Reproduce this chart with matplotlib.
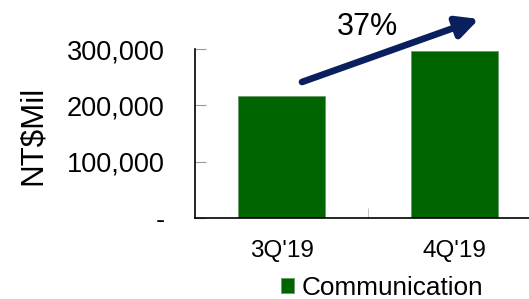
import matplotlib.pyplot as plt
from matplotlib.ticker import FuncFormatter

plt.rcParams['font.family'] = ['Liberation Sans', 'DejaVu Sans']

quarters = ["3Q'19", "4Q'19"]
communication = [216700, 296500]
growth_label = "37%"

fig = plt.figure(figsize=(5.29, 2.99), dpi=100)
ax = fig.add_axes([0.3686, 0.2709, 0.6314, 0.5652])

ax.bar(range(len(quarters)), communication, width=0.5, color='#006400',
       edgecolor='#6a9a6a', linewidth=0.6, label='Communication')

ax.set_xlim(-0.5, 1.43)
ax.set_ylim(0, 300000)
ax.set_yticks([0, 100000, 200000, 300000])
ax.yaxis.set_major_formatter(FuncFormatter(lambda v, p: '-' if v == 0 else f'{int(v):,}'))
ax.set_xticks(range(len(quarters)))
ax.set_xticklabels(quarters)
ax.set_xticks([0.5], minor=True)

for s in ['top', 'right']:
    ax.spines[s].set_visible(False)
for s in ['left', 'bottom']:
    ax.spines[s].set_color('black')
    ax.spines[s].set_linewidth(1.2)

ax.tick_params(axis='y', direction='in', length=8, color='#999999', labelsize=19.5, pad=22)
ax.tick_params(axis='x', which='major', length=0, labelsize=17.5, pad=16)
ax.tick_params(axis='x', which='minor', direction='in', length=7, color='#bbbbbb')

ax.set_ylabel('NT$Mil', fontsize=22.5)
ax.yaxis.set_label_coords(-0.44, 0.49)

# growth arrow
ax.annotate('', xy=(479, 280), xytext=(302, 217), xycoords='figure pixels',
            textcoords='figure pixels',
            arrowprops=dict(arrowstyle='-|>,head_length=1.3,head_width=0.65',
                            color='#0a1f5e', lw=4.8, shrinkA=0, shrinkB=0))
fig.text(367 / 529, 1 - 27 / 299, growth_label, fontsize=22, ha='center', va='center')

ax.legend(loc='center', bbox_to_anchor=(382 / 529, 11 / 299),
          bbox_transform=fig.transFigure, frameon=False, fontsize=18.8,
          handlelength=0.5, handleheight=0.5, handletextpad=0.28, borderpad=0)

fig.savefig('out.png', dpi=100)
